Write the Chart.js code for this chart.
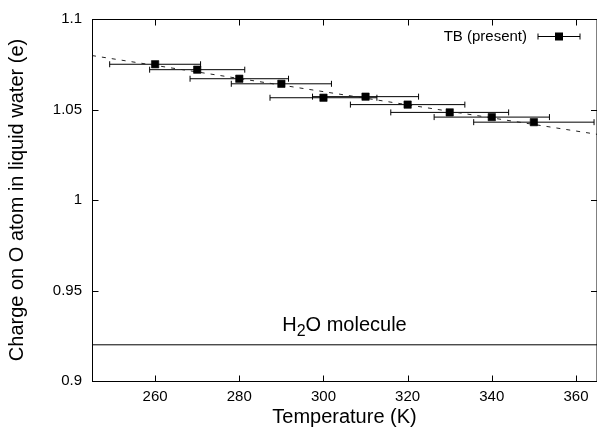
<!DOCTYPE html>
<html>
<head>
<meta charset="utf-8">
<script src="https://cdn.jsdelivr.net/npm/chart.js@4"></script>
<style>
  html, body { margin: 0; padding: 0; background: #fff; }
  #wrap { width: 597px; height: 431px; }
</style>
</head>
<body>
<div id="wrap"><canvas id="myChart" width="597" height="431"></canvas></div>
<script>
// TB charges on oxygen vs temperature, with temperature spread as x error bars
let temps = [260, 270, 280, 290, 300, 310, 320, 330, 340, 350];
let charge = [1.075, 1.072, 1.067, 1.0642, 1.0565, 1.0571, 1.0527, 1.0484, 1.0458, 1.043];
let tempErr = [10.8, 11.3, 11.7, 11.9, 12.7, 12.6, 13.6, 14.0, 13.7, 14.3];

// linear fit through the points
let fitX = [245, 365];
let fitY = [1.0798, 1.0363];

// isolated molecule reference
let moleculeX = [245, 365];
let moleculeY = [0.92, 0.92];

let xTicks = [260, 280, 300, 320, 340, 360];
let yTicks = [0.9, 0.95, 1, 1.05, 1.1];

let fontName = "'Liberation Sans', Arial, sans-serif";

function pts(xs, ys) {
    return xs.map(function (x, i) { return { x: x, y: ys[i] }; });
}

// gnuplot-like frame, inward ticks, error bars and text
let extras = {
    id: 'extras',
    beforeDatasetsDraw: function (chart) {
        let ctx = chart.ctx;
        let xs = chart.scales.x, ys = chart.scales.y;
        let a = chart.chartArea;
        ctx.save();
        ctx.beginPath();
        ctx.rect(a.left, a.top, a.right - a.left, a.bottom - a.top);
        ctx.clip();
        ctx.strokeStyle = '#000';
        ctx.lineWidth = 1;
        for (let i = 0; i < temps.length; i++) {
            let y = ys.getPixelForValue(charge[i]);
            let x0 = xs.getPixelForValue(temps[i] - tempErr[i]);
            let x1 = xs.getPixelForValue(temps[i] + tempErr[i]);
            ctx.beginPath();
            ctx.moveTo(x0, y); ctx.lineTo(x1, y);
            ctx.moveTo(x0, y - 3); ctx.lineTo(x0, y + 3);
            ctx.moveTo(x1, y - 3); ctx.lineTo(x1, y + 3);
            ctx.stroke();
        }
        ctx.restore();
    },
    afterDraw: function (chart) {
        let ctx = chart.ctx;
        let xs = chart.scales.x, ys = chart.scales.y;
        let a = chart.chartArea;
        let L = Math.round(a.left) + 0.5, R = a.right, T = Math.round(a.top) + 0.5, B = Math.round(a.bottom) + 0.5;
        ctx.save();
        ctx.strokeStyle = '#000';
        ctx.lineWidth = 1;
        ctx.strokeRect(L, T, R - L, B - T);

        // inward ticks on all four sides
        let tl = 6;
        ctx.beginPath();
        xTicks.forEach(function (v) {
            let x = Math.round(xs.getPixelForValue(v)) + 0.5;
            ctx.moveTo(x, B); ctx.lineTo(x, B - tl);
            ctx.moveTo(x, T); ctx.lineTo(x, T + tl);
        });
        yTicks.forEach(function (v) {
            let y = Math.round(ys.getPixelForValue(v)) + 0.5;
            ctx.moveTo(L, y); ctx.lineTo(L + tl, y);
            ctx.moveTo(R, y); ctx.lineTo(R - tl, y);
        });
        ctx.stroke();

        // H2O molecule label
        ctx.fillStyle = '#000';
        ctx.textBaseline = 'alphabetic';
        let big = '20px ' + fontName, small = '16px ' + fontName;
        ctx.font = big;
        let wH = ctx.measureText('H').width;
        let wRest = ctx.measureText('O molecule').width;
        ctx.font = small;
        let w2 = ctx.measureText('2').width;
        let total = wH + w2 + wRest;
        let cx = xs.getPixelForValue(305);
        let by = ys.getPixelForValue(0.9275);
        let x = cx - total / 2;
        ctx.font = big;
        ctx.textAlign = 'left';
        ctx.fillText('H', x, by);
        ctx.font = small;
        ctx.fillText('2', x + wH, by + 5);
        ctx.font = big;
        ctx.fillText('O molecule', x + wH + w2, by);

        // legend entry
        ctx.font = '15px ' + fontName;
        ctx.textAlign = 'right';
        ctx.fillText('TB (present)', a.left + 435, a.top + 22);
        let ly = Math.round(a.top + 17) + 0.5;
        let lx0 = a.left + 446, lx1 = a.left + 488, lc = a.left + 467;
        ctx.beginPath();
        ctx.moveTo(lx0, ly); ctx.lineTo(lx1, ly);
        ctx.moveTo(lx0, ly - 3); ctx.lineTo(lx0, ly + 3);
        ctx.moveTo(lx1, ly - 3); ctx.lineTo(lx1, ly + 3);
        ctx.stroke();
        ctx.fillRect(lc - 4, ly - 4, 8, 8);
        ctx.restore();
    }
};

let ctx = document.getElementById('myChart').getContext('2d');
let myChart = new Chart(ctx, {
    type: 'scatter',
    data: {
        datasets: [
            {
                label: 'TB (present)',
                data: pts(temps, charge),
                pointStyle: 'rect',
                pointRadius: 5.2,
                pointHoverRadius: 5.2,
                backgroundColor: '#000',
                borderColor: '#000',
                borderWidth: 0.6,
                showLine: false,
                order: 0
            },
            {
                label: 'fit',
                data: pts(fitX, fitY),
                showLine: true,
                borderColor: '#222',
                borderWidth: 1,
                borderDash: [4, 6],
                pointRadius: 0,
                order: 1
            },
            {
                label: 'H2O molecule',
                data: pts(moleculeX, moleculeY),
                showLine: true,
                borderColor: '#000',
                borderWidth: 1,
                pointRadius: 0,
                order: 2
            }
        ]
    },
    options: {
        responsive: false,
        animation: false,
        events: [],
        layout: { autoPadding: false, padding: { top: 15, right: -1.4, left: 0, bottom: 0 } },
        plugins: {
            legend: { display: false },
            tooltip: { enabled: false }
        },
        scales: {
            x: {
                type: 'linear',
                min: 245,
                max: 365,
                grid: { display: false, drawTicks: false },
                border: { display: false },
                afterFit: function (s) { s.height = 50; },
                afterBuildTicks: function (s) { s.ticks = xTicks.map(function (v) { return { value: v }; }); },
                ticks: {
                    padding: 7,
                    color: '#000',
                    maxRotation: 0,
                    font: { family: fontName, size: 15 }
                },
                title: {
                    display: true,
                    text: 'Temperature (K)',
                    color: '#000',
                    padding: { top: 0, bottom: 2 },
                    font: { family: fontName, size: 20 }
                }
            },
            y: {
                min: 0.9,
                max: 1.1,
                grid: { display: false, drawTicks: false },
                border: { display: false },
                afterFit: function (s) { s.width = 92; },
                afterBuildTicks: function (s) { s.ticks = yTicks.map(function (v) { return { value: v }; }); },
                ticks: {
                    padding: 10,
                    color: '#000',
                    font: { family: fontName, size: 15 },
                    callback: function (v) { return String(+v.toFixed(2)); }
                },
                title: {
                    display: true,
                    text: 'Charge on O atom in liquid water (e)',
                    color: '#000',
                    padding: { top: 5, bottom: 0 },
                    font: { family: fontName, size: 20 }
                }
            }
        }
    },
    plugins: [extras]
});
</script>
</body>
</html>
